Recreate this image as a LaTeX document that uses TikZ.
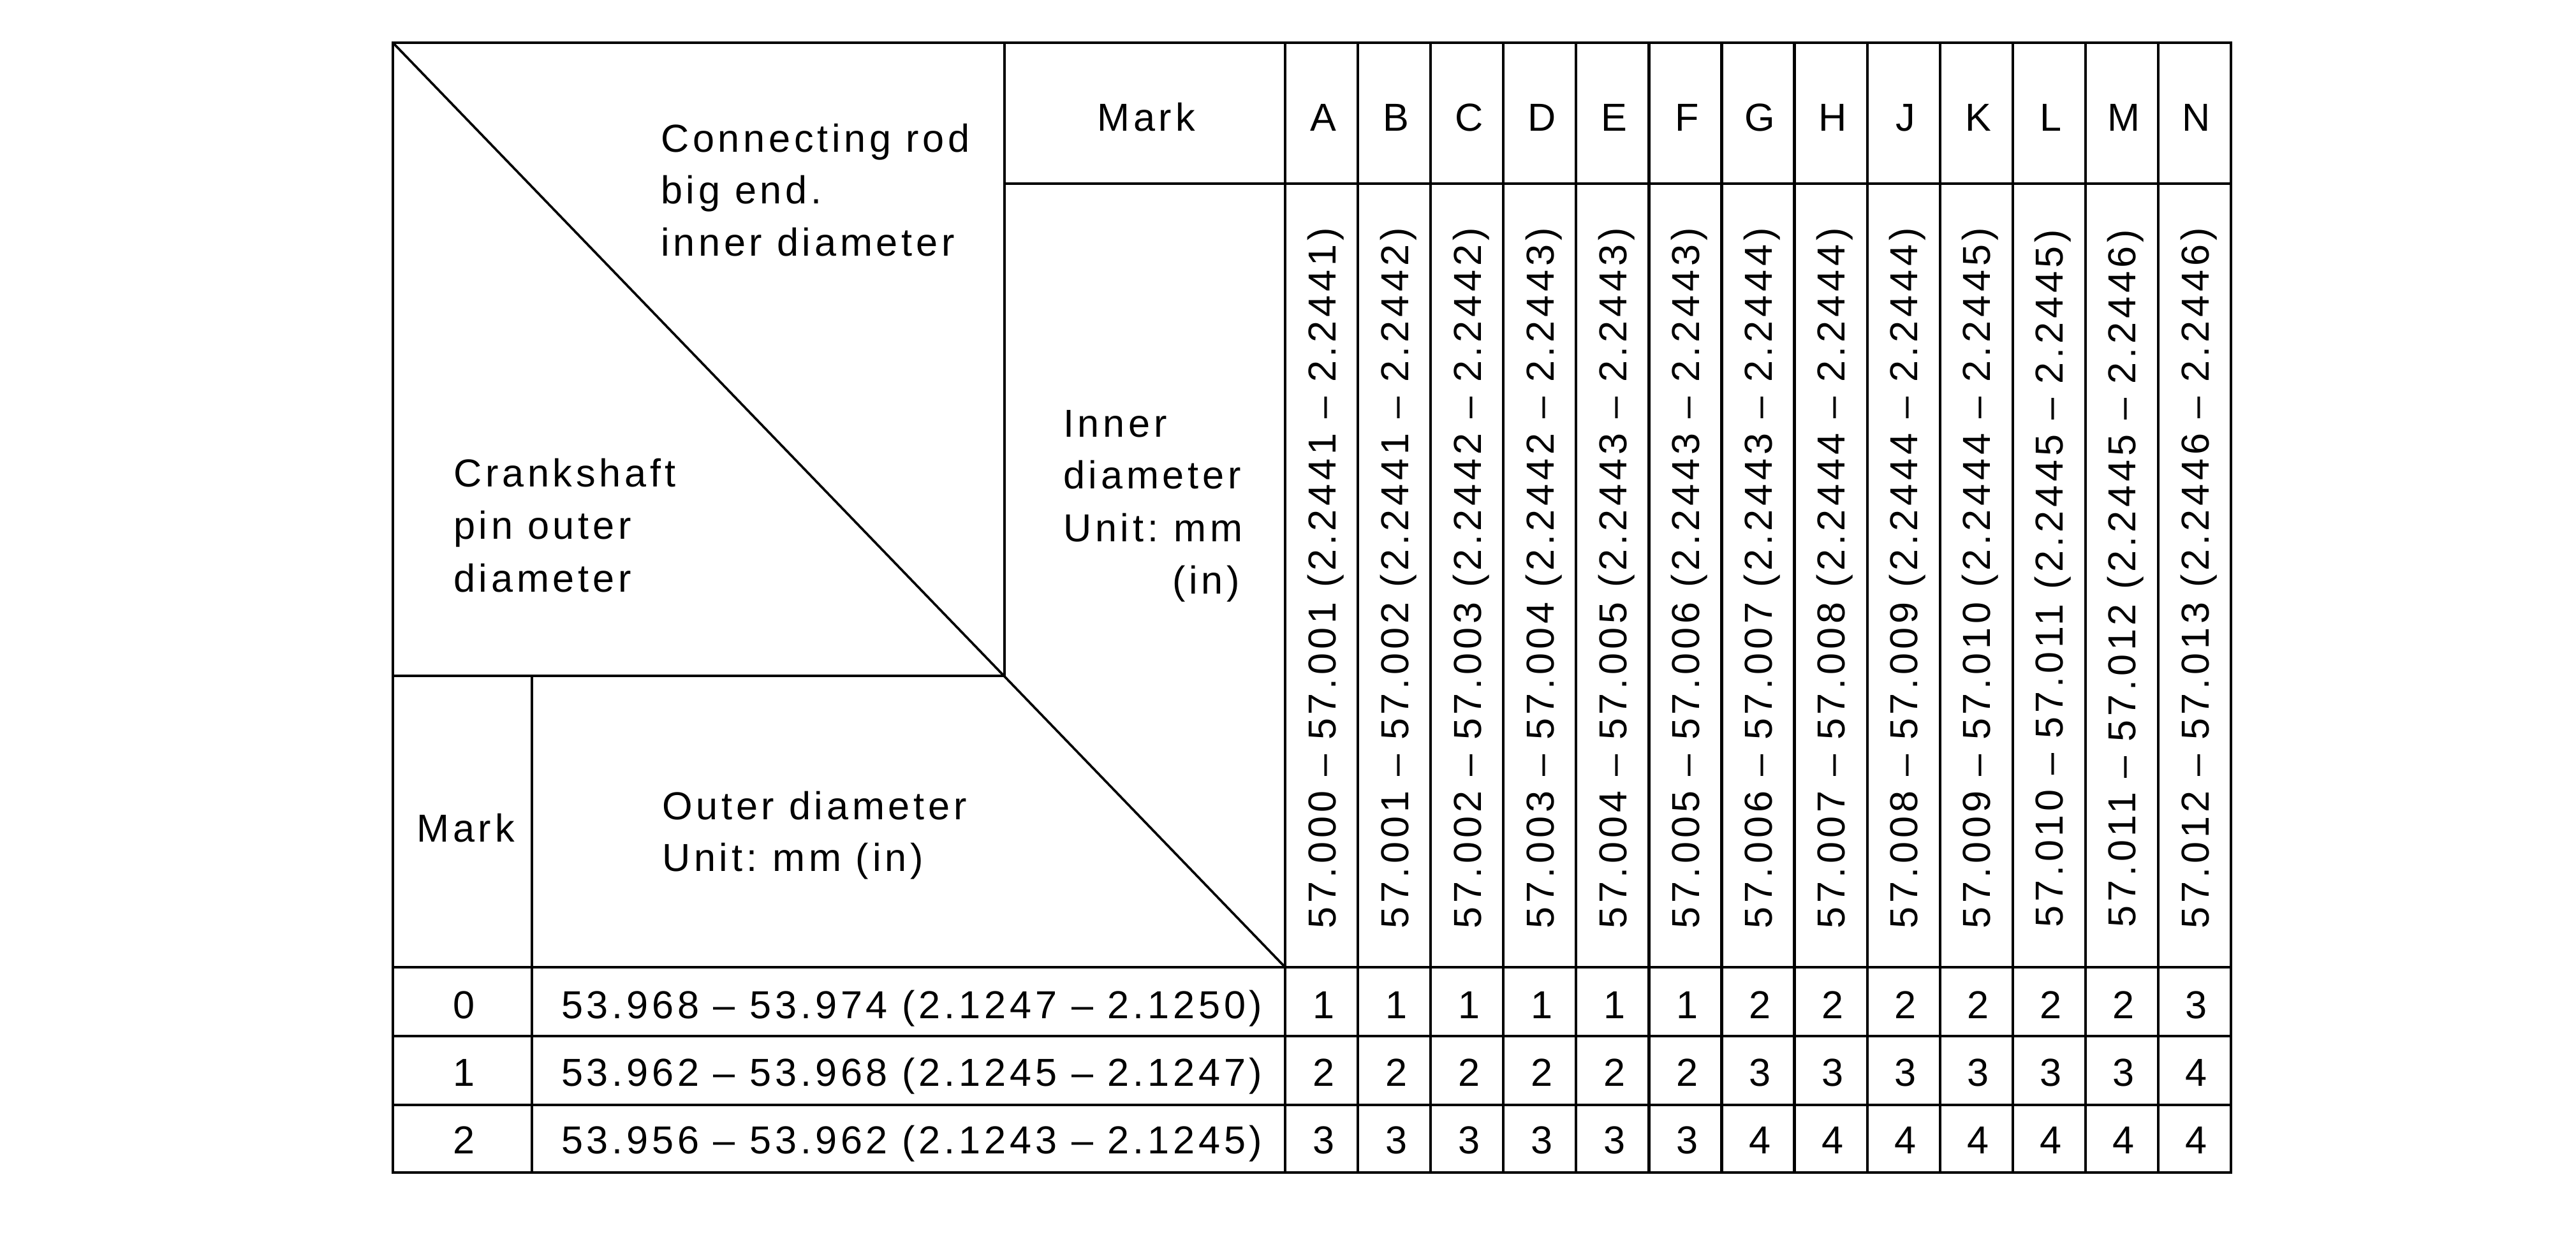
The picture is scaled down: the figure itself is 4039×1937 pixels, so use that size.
\documentclass[tikz,border=0pt]{standalone}
\usepackage{fontspec}
\setmainfont[LetterSpace=9.5]{Liberation Sans}
\newcommand\tabfont{\fontsize{17.4pt}{23.3pt}\selectfont}
\begin{document}
\begin{tikzpicture}[x=0.01cm,y=-0.01cm,line width=1.15pt,
  txt/.style={inner sep=0pt,outer sep=0pt,font=\tabfont},
  lefttxt/.style={txt,anchor=base west},
  midtxt/.style={txt,anchor=base},
  vtxt/.style={txt,anchor=base,rotate=90},
  grid/.style={line width=1.2pt},
  diag/.style={line width=1.05pt}]
\path[fill=white] (0,0) rectangle (4039,1937);
\useasboundingbox (0,0) rectangle (4039,1937);
% grid
\draw[grid] (616,67) rectangle (3498,1839);
\draw[grid] (1575,67) -- (1575,1060);
\draw[grid] (616,1060) -- (1575,1060);
\draw[grid] (2015,67) -- (2015,1839);
\draw[grid] (1575,288) -- (3498,288);
\draw[grid] (834,1060) -- (834,1839);
\foreach \yy in {1517,1625,1733} \draw[grid] (616,\yy) -- (3498,\yy);
\foreach \i in {1,...,12} \draw[grid] ({2015+114.08*\i},67) -- ({2015+114.08*\i},1839);
\draw[diag] (616,67) -- (2015,1517);
% corner texts
\node[lefttxt] (cr1) at (1036,239) {Connecting rod};
\node[lefttxt] (cr2) at (1036,320) {big end.};
\node[lefttxt] (cr3) at (1036,402) {inner diameter};
\node[lefttxt] (cs1) at (711,764) {Crankshaft};
\node[lefttxt] (cs2) at (711,846) {pin outer};
\node[lefttxt] (cs3) at (711,928) {diameter};
\node[lefttxt] (id1) at (1667,686) {Inner};
\node[lefttxt] (id2) at (1667,767) {diameter};
\node[lefttxt] (id3) at (1667,850) {Unit:\hspace{-0.1em} mm};
\node[txt,anchor=base east] (id4) at (1944,931) {(in)};
\node[midtxt] (hmark) at (1797,206) {Mark};
\node[midtxt] (rmark) at (730,1320) {Mark};
\node[lefttxt] (od1) at (1038,1285) {Outer diameter};
\node[lefttxt] (od2) at (1038,1366) {Unit:\hspace{-0.1em} mm (in)};
% column letters and ranges
\foreach \L/\R [count=\c from 0] in {
 A/{57.000 – 57.001 (2.2441 – 2.2441)},
 B/{57.001 – 57.002 (2.2441 – 2.2442)},
 C/{57.002 – 57.003 (2.2442 – 2.2442)},
 D/{57.003 – 57.004 (2.2442 – 2.2443)},
 E/{57.004 – 57.005 (2.2443 – 2.2443)},
 F/{57.005 – 57.006 (2.2443 – 2.2443)},
 G/{57.006 – 57.007 (2.2443 – 2.2444)},
 H/{57.007 – 57.008 (2.2444 – 2.2444)},
 J/{57.008 – 57.009 (2.2444 – 2.2444)},
 K/{57.009 – 57.010 (2.2444 – 2.2445)},
 L/{57.010 – 57.011 (2.2445 – 2.2445)},
 M/{57.011 – 57.012 (2.2445 – 2.2446)},
 N/{57.012 – 57.013 (2.2446 – 2.2446)}} {
  \node[midtxt] (col\L) at ({2075+114.08*\c},206) {\L};
  \node[vtxt] (rng\L) at ({2094+114.08*\c},907) {\R};
}
% rows
\foreach \m/\r/\yy/\vals in {
 0/{53.968 – 53.974 (2.1247 – 2.1250)}/1597/{1,1,1,1,1,1,2,2,2,2,2,2,3},
 1/{53.962 – 53.968 (2.1245 – 2.1247)}/1703/{2,2,2,2,2,2,3,3,3,3,3,3,4},
 2/{53.956 – 53.962 (2.1243 – 2.1245)}/1809/{3,3,3,3,3,3,4,4,4,4,4,4,4}} {
  \node[midtxt] (mk\m) at (728,\yy) {\m};
  \node[lefttxt] (od\m) at (880,\yy) {\r};
  \foreach \v [count=\c from 0] in \vals {
    \node[midtxt] (v\m-\c) at ({2075+114.08*\c},\yy) {\v};
  }
}
\end{tikzpicture}
\end{document}
